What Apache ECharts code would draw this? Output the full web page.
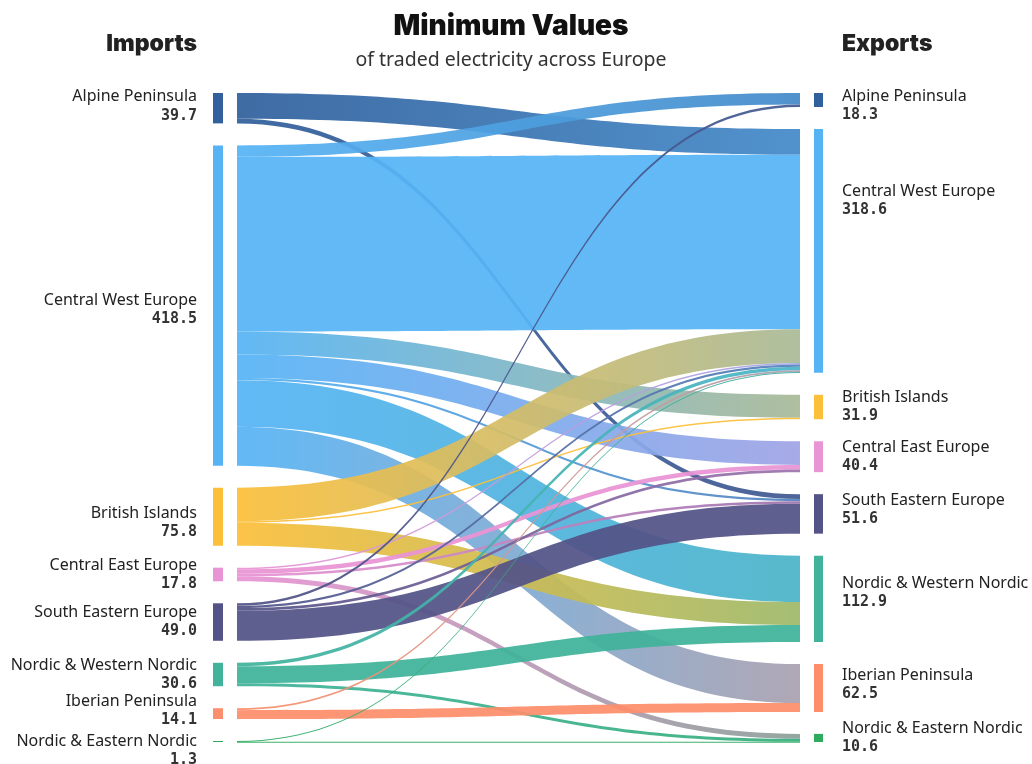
<!DOCTYPE html>
<html>
<head>
<meta charset="utf-8">
<script src="https://cdn.jsdelivr.net/npm/echarts@6/dist/echarts.min.js"></script>
<style>
html,body{margin:0;padding:0;background:#ffffff;}
#chart{width:1032px;height:764px;}
</style>
</head>
<body>
<div id="chart"></div>
<script>
// ---------- data ----------
const regions = [
  'Alpine Peninsula',
  'Central West Europe',
  'British Islands',
  'Central East Europe',
  'South Eastern Europe',
  'Nordic & Western Nordic',
  'Iberian Peninsula',
  'Nordic & Eastern Nordic'
];
const importTotals = [39.7, 418.5, 75.8, 17.8, 49.0, 30.6, 14.1, 1.3];
const exportTotals = [18.3, 318.6, 31.9, 40.4, 51.6, 112.9, 62.5, 10.6];

// flows (left/import side -> right/export side)
const flowFrom = [
  'Alpine Peninsula', 'Alpine Peninsula',
  'Central West Europe', 'Central West Europe', 'Central West Europe', 'Central West Europe',
  'Central West Europe', 'Central West Europe', 'Central West Europe',
  'British Islands', 'British Islands', 'British Islands',
  'Central East Europe', 'Central East Europe', 'Central East Europe', 'Central East Europe',
  'South Eastern Europe', 'South Eastern Europe', 'South Eastern Europe', 'South Eastern Europe',
  'Nordic & Western Nordic', 'Nordic & Western Nordic', 'Nordic & Western Nordic',
  'Iberian Peninsula', 'Iberian Peninsula',
  'Nordic & Eastern Nordic', 'Nordic & Eastern Nordic'
];
const flowTo = [
  'Central West Europe', 'South Eastern Europe',
  'Alpine Peninsula', 'Central West Europe', 'British Islands', 'Central East Europe',
  'South Eastern Europe', 'Nordic & Western Nordic', 'Iberian Peninsula',
  'Central West Europe', 'British Islands', 'Nordic & Western Nordic',
  'Central West Europe', 'Central East Europe', 'South Eastern Europe', 'Nordic & Eastern Nordic',
  'Alpine Peninsula', 'Central West Europe', 'Central East Europe', 'South Eastern Europe',
  'Central West Europe', 'Nordic & Western Nordic', 'Nordic & Eastern Nordic',
  'Central West Europe', 'Iberian Peninsula',
  'Central West Europe', 'Nordic & Eastern Nordic'
];
const flowValue = [
  33.5, 6.2,
  15.0, 228.3, 29.9, 30.9, 2.9, 60.6, 50.9,
  43.8, 2.0, 30.0,
  2.0, 6.0, 3.3, 6.5,
  3.3, 3.0, 3.5, 39.2,
  4.5, 22.3, 3.8,
  2.5, 11.6,
  1.0, 0.3
];

const titleText = 'Minimum Values';
const subtitleText = 'of traded electricity across Europe';
const leftHeader = 'Imports';
const rightHeader = 'Exports';

// ---------- styles ----------
const regionColors = ['#31609c', '#56b4f5', '#fbbf3a', '#e994d4', '#535387', '#40b39a', '#fd8e6b', '#2eab5f'];
const leftLabelOffset = { 'Alpine Peninsula': [0, -2], 'Central West Europe': [0, 4], 'British Islands': [0, 6], 'Iberian Peninsula': [0, -3], 'Nordic & Eastern Nordic': [0, 9] };
const rightLabelOffset = { 'Alpine Peninsula': [0, 6], 'Central West Europe': [0, -50], 'South Eastern Europe': [0, -4], 'Nordic & Western Nordic': [0, -6], 'Iberian Peninsula': [0, -3] };

function hexToRgb(h) {
  h = h.replace('#', '');
  return [parseInt(h.substr(0, 2), 16), parseInt(h.substr(2, 2), 16), parseInt(h.substr(4, 2), 16)];
}
function mix(a, b, t) {
  const A = hexToRgb(a), B = hexToRgb(b);
  return 'rgb(' + A.map((v, i) => Math.round(v + (B[i] - v) * t)).join(',') + ')';
}
const clear = 'rgba(255,255,255,0)';
function leftBar(c) {
  return new echarts.graphic.LinearGradient(0, 0, 1, 0, [
    { offset: 0, color: c }, { offset: 0.4, color: c },
    { offset: 0.4, color: clear }, { offset: 1, color: clear }
  ]);
}
function rightBar(c) {
  return new echarts.graphic.LinearGradient(0, 0, 1, 0, [
    { offset: 0, color: clear }, { offset: 0.58, color: clear },
    { offset: 0.58, color: c }, { offset: 0.96, color: c },
    { offset: 0.96, color: clear }, { offset: 1, color: clear }
  ]);
}

const nameFont = { fontFamily: 'Noto Sans', fontSize: 16, color: '#222', lineHeight: 19 };
const valFont = { fontFamily: 'DejaVu Sans Mono', fontSize: 15, fontWeight: 'bold', color: '#333', lineHeight: 19 };

const nodes = [];
regions.forEach((r, i) => {
  nodes.push({
    name: 'L|' + r, region: r, total: importTotals[i], value: importTotals[i],
    itemStyle: { color: leftBar(regionColors[i]) },
    label: {
      position: 'left', distance: 16, align: 'right',
      offset: leftLabelOffset[r] || [0, 0],
      rich: { n: Object.assign({ align: 'right' }, nameFont), v: Object.assign({ align: 'right' }, valFont) }
    }
  });
});
regions.forEach((r, i) => {
  nodes.push({
    name: 'R|' + r, region: r, total: exportTotals[i], value: exportTotals[i],
    itemStyle: { color: rightBar(regionColors[i]) },
    label: {
      position: 'right', distance: 18, align: 'left',
      offset: rightLabelOffset[r] || [0, 0],
      rich: { n: Object.assign({ align: 'left' }, nameFont), v: Object.assign({ align: 'left' }, valFont) }
    }
  });
});

const links = flowValue.map((v, k) => {
  const cs = regionColors[regions.indexOf(flowFrom[k])];
  const ct = regionColors[regions.indexOf(flowTo[k])];
  return {
    source: 'L|' + flowFrom[k], target: 'R|' + flowTo[k], value: v,
    lineStyle: {
      color: new echarts.graphic.LinearGradient(0, 0, 1, 0, [
        { offset: 0, color: cs }, { offset: 1, color: mix(cs, ct, 0.5) }
      ]),
      opacity: 0.93
    }
  };
});

const chart = echarts.init(document.getElementById('chart'), null, { renderer: 'canvas' });
chart.setOption({
  backgroundColor: '#ffffff',
  animation: false,
  graphic: [
    { type: 'text', x: 511, y: 27, style: { text: titleText, fill: '#111', font: '900 28px Inter', align: 'center', verticalAlign: 'middle' } },
    { type: 'text', x: 511, y: 60, style: { text: subtitleText, fill: '#333', font: '19.5px "Noto Sans"', align: 'center', verticalAlign: 'middle' } },
    { type: 'text', x: 197, y: 44, style: { text: leftHeader, fill: '#222', font: '900 23px Inter', align: 'right', verticalAlign: 'middle' } },
    { type: 'text', x: 842, y: 44, style: { text: rightHeader, fill: '#222', font: '900 23px Inter', align: 'left', verticalAlign: 'middle' } }
  ],
  series: [{
    type: 'sankey',
    left: 213, right: 208, top: 93, bottom: 22,
    nodeWidth: 24,
    nodeGap: 22,
    layoutIterations: 0,
    draggable: false,
    emphasis: { disabled: true },
    label: {
      show: true,
      formatter: p => '{n|' + p.data.region + '}\n{v|' + p.data.total.toFixed(1) + '}'
    },
    lineStyle: { curveness: 0.5 },
    itemStyle: { borderWidth: 0 },
    data: nodes,
    links: links
  }]
});
</script>
</body>
</html>
